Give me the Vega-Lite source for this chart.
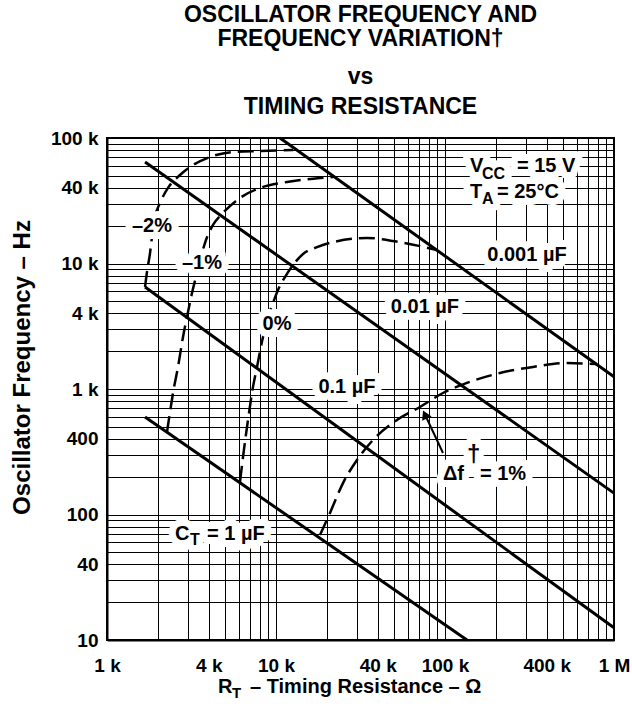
{
  "$schema": "https://vega.github.io/schema/vega-lite/v6.json",
  "width": 507,
  "height": 502,
  "autosize": {"type": "none"},
  "padding": {"left": 107, "top": 138, "right": 18, "bottom": 67},
  "background": "white",
  "config": {"view": {"stroke": "black", "strokeWidth": 2}, "font": "Liberation Sans"},
  "title": {
    "text": ["OSCILLATOR FREQUENCY AND", "FREQUENCY VARIATION†"],
    "subtitle": ["vs", "TIMING RESISTANCE"],
    "font": "Liberation Sans", "fontSize": 23, "fontWeight": "bold", "color": "black",
    "subtitleFont": "Liberation Sans", "subtitleFontSize": 23, "subtitleFontWeight": "bold", "subtitleColor": "black",
    "lineHeight": 24, "subtitleLineHeight": 30, "subtitlePadding": 15,
    "anchor": "middle", "frame": "group", "offset": 10
  },
  "datasets": {
    "solid": [
      {"c": "0.001", "x": 10560, "y": 100000}, {"c": "0.001", "x": 1000000, "y": 1250},
      {"c": "0.01", "x": 1679, "y": 64400}, {"c": "0.01", "x": 1000000, "y": 148},
      {"c": "0.1", "x": 1679, "y": 6500}, {"c": "0.1", "x": 1000000, "y": 12.5},
      {"c": "1", "x": 1679, "y": 598}, {"c": "1", "x": 134900, "y": 10}
    ],
    "dashed": [
      {"d": "-2", "x": 1679, "y": 6500}, {"d": "-2", "x": 1724, "y": 8560}, {"d": "-2", "x": 1797, "y": 12100},
      {"d": "-2", "x": 1846, "y": 16300}, {"d": "-2", "x": 1923, "y": 23500}, {"d": "-2", "x": 2059, "y": 30300},
      {"d": "-2", "x": 2296, "y": 40000}, {"d": "-2", "x": 2704, "y": 50700}, {"d": "-2", "x": 3228, "y": 60900},
      {"d": "-2", "x": 4070, "y": 70600}, {"d": "-2", "x": 5567, "y": 77400}, {"d": "-2", "x": 8042, "y": 78800},
      {"d": "-2", "x": 12610, "y": 80200},
      {"d": "-1", "x": 2265, "y": 454}, {"d": "-1", "x": 2360, "y": 656}, {"d": "-1", "x": 2458, "y": 929},
      {"d": "-1", "x": 2632, "y": 1500}, {"d": "-1", "x": 2817, "y": 2600}, {"d": "-1", "x": 2974, "y": 3750},
      {"d": "-1", "x": 3184, "y": 5820}, {"d": "-1", "x": 3409, "y": 8400}, {"d": "-1", "x": 3802, "y": 14600},
      {"d": "-1", "x": 4239, "y": 20300}, {"d": "-1", "x": 4858, "y": 25300}, {"d": "-1", "x": 6124, "y": 33300},
      {"d": "-1", "x": 8042, "y": 40000}, {"d": "-1", "x": 11620, "y": 44600}, {"d": "-1", "x": 18210, "y": 48000},
      {"d": "-1", "x": 21750, "y": 48900},
      {"d": "0", "x": 6124, "y": 181.5}, {"d": "0", "x": 6379, "y": 287}, {"d": "0", "x": 6828, "y": 566},
      {"d": "0", "x": 7310, "y": 1040}, {"d": "0", "x": 7721, "y": 1500}, {"d": "0", "x": 8378, "y": 2600},
      {"d": "0", "x": 8970, "y": 3750}, {"d": "0", "x": 9600, "y": 4840}, {"d": "0", "x": 10270, "y": 6150},
      {"d": "0", "x": 11300, "y": 7800}, {"d": "0", "x": 12610, "y": 9730}, {"d": "0", "x": 14450, "y": 11900},
      {"d": "0", "x": 17480, "y": 13500}, {"d": "0", "x": 21750, "y": 14800}, {"d": "0", "x": 34550, "y": 15960},
      {"d": "0", "x": 54200, "y": 14800}, {"d": "0", "x": 89700, "y": 12800},
      {"d": "1", "x": 18210, "y": 68.7}, {"d": "1", "x": 20870, "y": 103}, {"d": "1", "x": 24920, "y": 178},
      {"d": "1", "x": 30150, "y": 272}, {"d": "1", "x": 37500, "y": 392}, {"d": "1", "x": 52000, "y": 566},
      {"d": "1", "x": 71100, "y": 719}, {"d": "1", "x": 97300, "y": 929}, {"d": "1", "x": 134900, "y": 1120},
      {"d": "1", "x": 211500, "y": 1340}, {"d": "1", "x": 331700, "y": 1500}, {"d": "1", "x": 527000, "y": 1610},
      {"d": "1", "x": 793000, "y": 1580}
    ],
    "arrow": [{"x": 97300, "y": 309}, {"x": 76100, "y": 626}],
    "arrowhead": [{"x": 76100, "y": 626}],
    "labels": [
      {"t": "–2%", "x": 1846, "y": 19900},
      {"t": "–1%", "x": 3649, "y": 10090},
      {"t": "0%", "x": 10140, "y": 3300},
      {"t": "0.1 µF", "x": 26300, "y": 1040},
      {"t": "0.01 µF", "x": 76100, "y": 4500},
      {"t": "0.001 µF", "x": 305600, "y": 11680}
    ],
    "pieces": [
      {"t": "V", "x": 140600, "y": 53600},
      {"t": "= 15 V", "x": 266700, "y": 53600},
      {"t": "T", "x": 140600, "y": 33300},
      {"t": "= 25°C", "x": 203100, "y": 33300},
      {"t": "C", "x": 2526, "y": 62.6},
      {"t": "= 1 µF", "x": 3906, "y": 62.6},
      {"t": "Δf", "x": 97300, "y": 188},
      {"t": "= 1%", "x": 161100, "y": 188}
    ],
    "sups": [
      {"t": "†", "x": 134900, "y": 260}
    ],
    "subs": [
      {"t": "CC", "x": 165500, "y": 47100},
      {"t": "A", "x": 165500, "y": 29800},
      {"t": "T", "x": 3098, "y": 57.1}
    ],
    "xtitle": [
      {"t": "R", "x": 4538, "y": 3.78},
      {"t": "– Timing Resistance – Ω", "x": 7019, "y": 3.78}
    ],
    "xtitlesub": [
      {"t": "T", "x": 5490, "y": 3.45}
    ]
  },
  "encoding": {
    "x": {
      "field": "x", "type": "quantitative",
      "scale": {"type": "log", "domain": [1000, 1000000], "nice": false},
      "axis": {
        "title": null,
        "values": [1000, 2000, 3000, 4000, 5000, 6000, 7000, 8000, 9000, 10000, 20000, 30000, 40000, 50000, 60000, 70000, 80000, 90000, 100000, 200000, 300000, 400000, 500000, 600000, 700000, 800000, 900000, 1000000],
        "labelExpr": "indexof([1000,4000,10000,40000,100000,400000,1000000], datum.value) >= 0 ? (datum.value >= 1000000 ? '1 M' : format(datum.value / 1000, 'd') + ' k') : ''",
        "grid": true, "gridColor": "black", "gridWidth": 1, "gridOpacity": 1,
        "ticks": false, "tickSize": 0,
        "domain": true, "domainColor": "black", "domainWidth": 2,
        "labelFont": "Liberation Sans", "labelFontSize": 19, "labelFontWeight": "bold", "labelColor": "black",
        "labelPadding": 16, "labelOverlap": false, "labelFlush": false
      }
    },
    "y": {
      "field": "y", "type": "quantitative",
      "scale": {"type": "log", "domain": [10, 100000], "nice": false},
      "axis": {
        "title": "Oscillator Frequency – Hz",
        "titleFont": "Liberation Sans", "titleFontSize": 24, "titleFontWeight": "bold", "titleColor": "black",
        "titleX": -85, "titleY": 229, "titleAngle": -90, "titleAlign": "center", "titleBaseline": "middle",
        "values": [10, 20, 30, 40, 50, 60, 70, 80, 90, 100, 200, 300, 400, 500, 600, 700, 800, 900, 1000, 2000, 3000, 4000, 5000, 6000, 7000, 8000, 9000, 10000, 20000, 30000, 40000, 50000, 60000, 70000, 80000, 90000, 100000],
        "labelExpr": "indexof([10,40,100,400,1000,4000,10000,40000,100000], datum.value) >= 0 ? (datum.value >= 1000 ? format(datum.value / 1000, 'd') + ' k' : format(datum.value, 'd')) : ''",
        "grid": true, "gridColor": "black", "gridWidth": 1, "gridOpacity": 1,
        "ticks": false, "tickSize": 0,
        "domain": true, "domainColor": "black", "domainWidth": 2,
        "labelFont": "Liberation Sans", "labelFontSize": 19, "labelFontWeight": "bold", "labelColor": "black",
        "labelPadding": 9, "labelOverlap": false, "labelFlush": false
      }
    }
  },
  "layer": [
    {"data": {"name": "solid"}, "mark": {"type": "line", "color": "black", "strokeWidth": 3}, "encoding": {"detail": {"field": "c"}}},
    {"data": {"name": "dashed"}, "mark": {"type": "line", "color": "black", "strokeWidth": 2.5, "strokeDash": [16, 7], "interpolate": "monotone"}, "encoding": {"detail": {"field": "d"}}},
    {"data": {"name": "arrow"}, "mark": {"type": "line", "color": "black", "strokeWidth": 2}, "encoding": {}},
    {"data": {"name": "arrowhead"}, "mark": {"type": "point", "shape": "triangle-up", "filled": true, "color": "black", "opacity": 1, "size": 110, "angle": 335}},
    {"data": {"name": "labels"}, "mark": {"type": "text", "font": "Liberation Sans", "fontSize": 20, "fontWeight": "bold", "align": "center", "baseline": "middle", "color": "white", "stroke": "white", "strokeWidth": 14, "strokeJoin": "round"}, "encoding": {"text": {"field": "t"}}},
    {"data": {"name": "pieces"}, "mark": {"type": "text", "font": "Liberation Sans", "fontSize": 20, "fontWeight": "bold", "align": "left", "baseline": "alphabetic", "color": "white", "stroke": "white", "strokeWidth": 14, "strokeJoin": "round"}, "encoding": {"text": {"field": "t"}}},
    {"data": {"name": "sups"}, "mark": {"type": "text", "font": "Liberation Sans", "fontSize": 24, "fontWeight": "bold", "align": "left", "baseline": "alphabetic", "color": "white", "stroke": "white", "strokeWidth": 14, "strokeJoin": "round"}, "encoding": {"text": {"field": "t"}}},
    {"data": {"name": "subs"}, "mark": {"type": "text", "font": "Liberation Sans", "fontSize": 16, "fontWeight": "bold", "align": "left", "baseline": "alphabetic", "color": "white", "stroke": "white", "strokeWidth": 14, "strokeJoin": "round"}, "encoding": {"text": {"field": "t"}}},
    {"data": {"name": "labels"}, "mark": {"type": "text", "font": "Liberation Sans", "fontSize": 20, "fontWeight": "bold", "align": "center", "baseline": "middle", "color": "black"}, "encoding": {"text": {"field": "t"}}},
    {"data": {"name": "pieces"}, "mark": {"type": "text", "font": "Liberation Sans", "fontSize": 20, "fontWeight": "bold", "align": "left", "baseline": "alphabetic", "color": "black"}, "encoding": {"text": {"field": "t"}}},
    {"data": {"name": "sups"}, "mark": {"type": "text", "font": "Liberation Sans", "fontSize": 24, "fontWeight": "bold", "align": "left", "baseline": "alphabetic", "color": "black"}, "encoding": {"text": {"field": "t"}}},
    {"data": {"name": "subs"}, "mark": {"type": "text", "font": "Liberation Sans", "fontSize": 16, "fontWeight": "bold", "align": "left", "baseline": "alphabetic", "color": "black"}, "encoding": {"text": {"field": "t"}}},
    {"data": {"name": "xtitle"}, "mark": {"type": "text", "font": "Liberation Sans", "fontSize": 20, "fontWeight": "bold", "align": "left", "baseline": "alphabetic", "color": "black"}, "encoding": {"text": {"field": "t"}}},
    {"data": {"name": "xtitlesub"}, "mark": {"type": "text", "font": "Liberation Sans", "fontSize": 15, "fontWeight": "bold", "align": "left", "baseline": "alphabetic", "color": "black"}, "encoding": {"text": {"field": "t"}}}
  ]
}
